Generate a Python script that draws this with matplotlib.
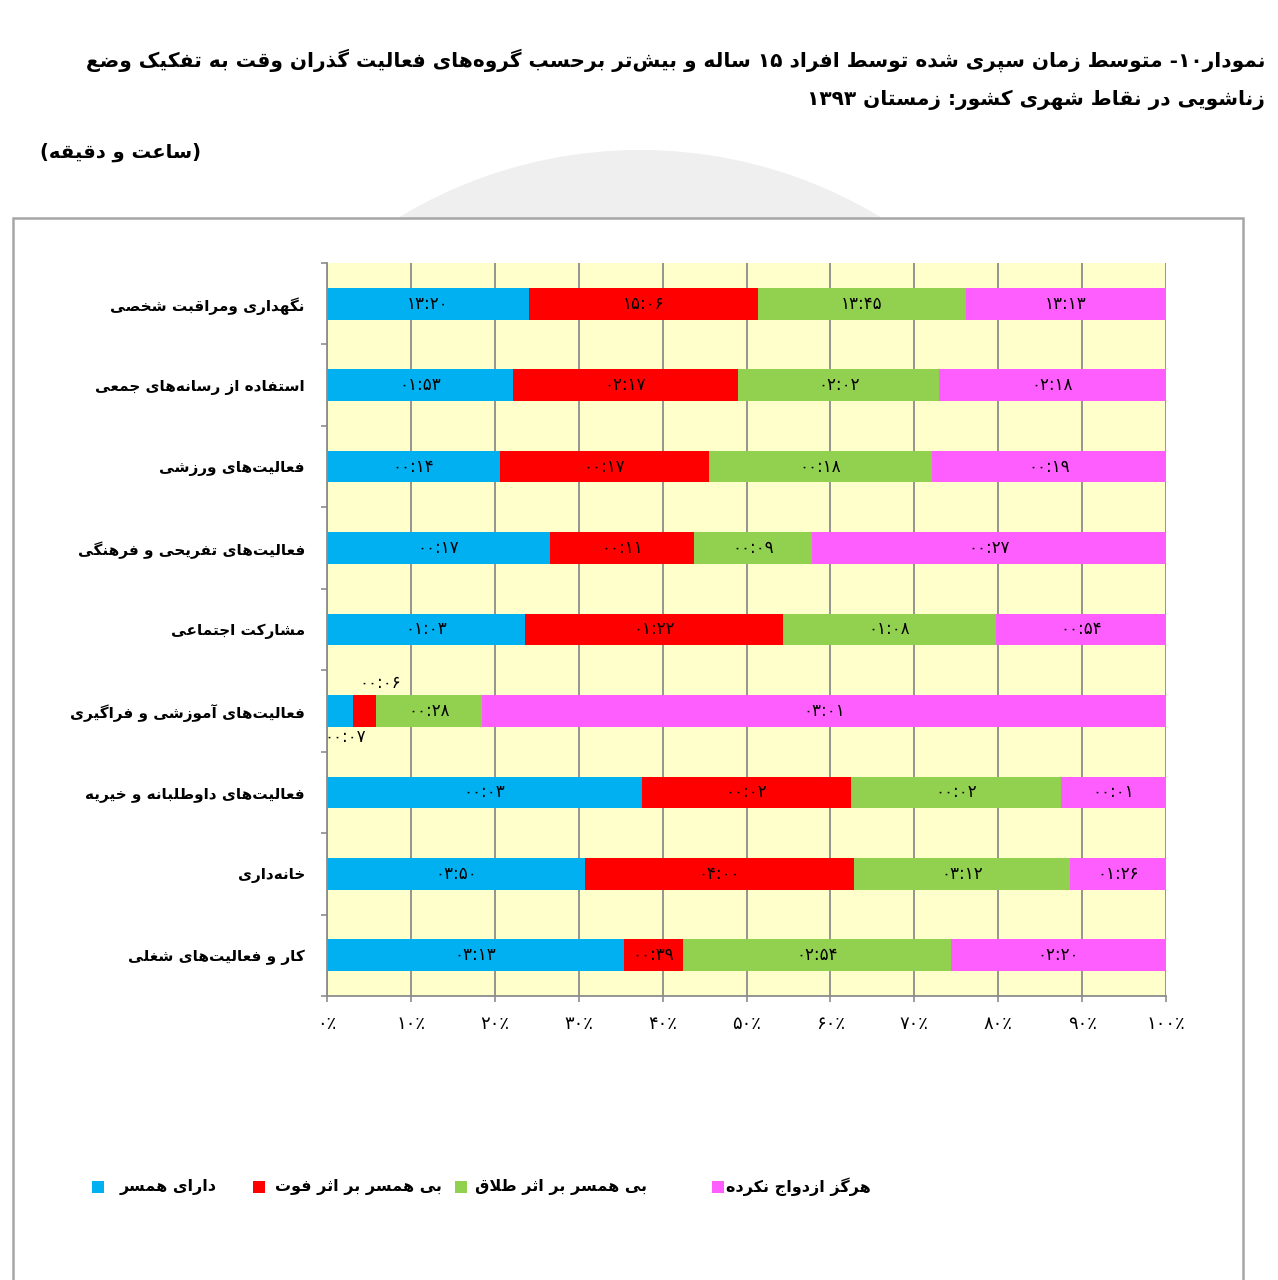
import re
import matplotlib
matplotlib.use("Agg")
import matplotlib.pyplot as plt
import matplotlib.patches as patches

# Data (minutes as shown in the chart labels, hh:mm in Persian digits)
categories = [
    "نگهداری ومراقبت شخصی",
    "استفاده از رسانه‌های جمعی",
    "فعالیت‌های ورزشی",
    "فعالیت‌های تفریحی و فرهنگی",
    "مشارکت اجتماعی",
    "فعالیت‌های آموزشی و فراگیری",
    "فعالیت‌های داوطلبانه و خیریه",
    "خانه‌داری",
    "کار و فعالیت‌های شغلی",
]
married = ["۱۳:۲۰", "۰۱:۵۳", "۰۰:۱۴", "۰۰:۱۷", "۰۱:۰۳", "۰۰:۰۷", "۰۰:۰۳", "۰۳:۵۰", "۰۳:۱۳"]
widowed = ["۱۵:۰۶", "۰۲:۱۷", "۰۰:۱۷", "۰۰:۱۱", "۰۱:۲۲", "۰۰:۰۶", "۰۰:۰۲", "۰۴:۰۰", "۰۰:۳۹"]
divorced = ["۱۳:۴۵", "۰۲:۰۲", "۰۰:۱۸", "۰۰:۰۹", "۰۱:۰۸", "۰۰:۲۸", "۰۰:۰۲", "۰۳:۱۲", "۰۲:۵۴"]
never_married = ["۱۳:۱۳", "۰۲:۱۸", "۰۰:۱۹", "۰۰:۲۷", "۰۰:۵۴", "۰۳:۰۱", "۰۰:۰۱", "۰۱:۲۶", "۰۲:۲۰"]

series_names = ["دارای همسر", "بی همسر بر اثر فوت", "بی همسر بر اثر طلاق", "هرگز ازدواج نکرده"]
series_colors = ["#00B0F0", "#FF0000", "#92D050", "#FF5EFF"]
x_ticks = [0, 10, 20, 30, 40, 50, 60, 70, 80, 90, 100]
x_tick_labels = ["۰٪", "۱۰٪", "۲۰٪", "۳۰٪", "۴۰٪", "۵۰٪", "۶۰٪", "۷۰٪", "۸۰٪", "۹۰٪", "۱۰۰٪"]

title_1 = "نمودار۱۰- متوسط زمان سپری شده توسط افراد ۱۵ ساله و بیش‌تر برحسب گروه‌های فعالیت گذران وقت به تفکیک وضع"
title_2 = "زناشویی در نقاط شهری کشور: زمستان ۱۳۹۳"
unit_text = "(ساعت و دقیقه)"

# --- minimal Persian shaping (presentation forms) + RTL reorder ---
FORMS = {
    "ء": ("\uFE80", None, None, None),
    "آ": ("\uFE81", "\uFE82", None, None),
    "أ": ("\uFE83", "\uFE84", None, None),
    "ا": ("\uFE8D", "\uFE8E", None, None),
    "ب": ("\uFE8F", "\uFE90", "\uFE91", "\uFE92"),
    "پ": ("\uFB56", "\uFB57", "\uFB58", "\uFB59"),
    "ت": ("\uFE95", "\uFE96", "\uFE97", "\uFE98"),
    "ث": ("\uFE99", "\uFE9A", "\uFE9B", "\uFE9C"),
    "ج": ("\uFE9D", "\uFE9E", "\uFE9F", "\uFEA0"),
    "چ": ("\uFB7A", "\uFB7B", "\uFB7C", "\uFB7D"),
    "ح": ("\uFEA1", "\uFEA2", "\uFEA3", "\uFEA4"),
    "خ": ("\uFEA5", "\uFEA6", "\uFEA7", "\uFEA8"),
    "د": ("\uFEA9", "\uFEAA", None, None),
    "ذ": ("\uFEAB", "\uFEAC", None, None),
    "ر": ("\uFEAD", "\uFEAE", None, None),
    "ز": ("\uFEAF", "\uFEB0", None, None),
    "ژ": ("\uFB8A", "\uFB8B", None, None),
    "س": ("\uFEB1", "\uFEB2", "\uFEB3", "\uFEB4"),
    "ش": ("\uFEB5", "\uFEB6", "\uFEB7", "\uFEB8"),
    "ص": ("\uFEB9", "\uFEBA", "\uFEBB", "\uFEBC"),
    "ض": ("\uFEBD", "\uFEBE", "\uFEBF", "\uFEC0"),
    "ط": ("\uFEC1", "\uFEC2", "\uFEC3", "\uFEC4"),
    "ظ": ("\uFEC5", "\uFEC6", "\uFEC7", "\uFEC8"),
    "ع": ("\uFEC9", "\uFECA", "\uFECB", "\uFECC"),
    "غ": ("\uFECD", "\uFECE", "\uFECF", "\uFED0"),
    "ف": ("\uFED1", "\uFED2", "\uFED3", "\uFED4"),
    "ق": ("\uFED5", "\uFED6", "\uFED7", "\uFED8"),
    "ک": ("\uFB8E", "\uFB8F", "\uFB90", "\uFB91"),
    "گ": ("\uFB92", "\uFB93", "\uFB94", "\uFB95"),
    "ل": ("\uFEDD", "\uFEDE", "\uFEDF", "\uFEE0"),
    "م": ("\uFEE1", "\uFEE2", "\uFEE3", "\uFEE4"),
    "ن": ("\uFEE5", "\uFEE6", "\uFEE7", "\uFEE8"),
    "و": ("\uFEED", "\uFEEE", None, None),
    "ه": ("\uFEE9", "\uFEEA", "\uFEEB", "\uFEEC"),
    "ی": ("\uFBFC", "\uFBFD", "\uFBFE", "\uFBFF"),
}
LAM_ALEF = {"ا": ("\uFEFB", "\uFEFC"), "آ": ("\uFEF5", "\uFEF6")}


def joins_forward(c):
    return c in FORMS and FORMS[c][2] is not None


def shape(s):
    out = []
    i = 0
    n = len(s)
    while i < n:
        c = s[i]
        if c not in FORMS:
            if c != "\u200c":
                out.append(c)
            i += 1
            continue
        prev = s[i - 1] if i > 0 else ""
        pj = joins_forward(prev)
        if c == "ل" and i + 1 < n and s[i + 1] in LAM_ALEF:
            out.append(LAM_ALEF[s[i + 1]][1 if pj else 0])
            i += 2
            continue
        nxt = s[i + 1] if i + 1 < n else ""
        nj = joins_forward(c) and nxt in FORMS
        iso, fin, ini, med = FORMS[c]
        if pj and nj:
            out.append(med)
        elif pj:
            out.append(fin or iso)
        elif nj:
            out.append(ini)
        else:
            out.append(iso)
        i += 1
    return "".join(out)


def fa(s):
    tokens = re.findall(r"[0-9۰-۹]+(?:[:.][0-9۰-۹]+)*|.", shape(s))
    return "".join(tokens[::-1]).translate(str.maketrans("()", ")("))


def to_minutes(t):
    h, m = t.translate(str.maketrans("۰۱۲۳۴۵۶۷۸۹", "0123456789")).split(":")
    return int(h) * 60 + int(m)


plt.rcParams["font.family"] = ["DejaVu Sans"]

fig = plt.figure(figsize=(12.78, 12.80), dpi=100)

# background layer in pixel coords: watermark arc, chart box, legend squares
bg = fig.add_axes([0, 0, 1, 1], zorder=-1)
bg.set_xlim(0, 1278)
bg.set_ylim(1280, 0)
bg.axis("off")
bg.add_patch(patches.Circle((640, 615), 465, facecolor="#EFEFEF", edgecolor="none"))
bg.add_patch(patches.Rectangle((13, 218), 1230, 1100, facecolor="white", edgecolor="#A6A6A6", linewidth=1.8))

ax = fig.add_axes([327 / 1278, 1 - 996 / 1280, 839 / 1278, 733 / 1280])
ax.set_facecolor("#FFFFCC")

y = list(range(len(categories)))
all_series = [married, widowed, divorced, never_married]
minutes = [[to_minutes(v) for v in s] for s in all_series]
totals = [sum(col) for col in zip(*minutes)]

left = [0.0] * len(categories)
bar_h = 0.39
for k, s in enumerate(all_series):
    pct = [m / t * 100 for m, t in zip(minutes[k], totals)]
    ax.barh(y, pct, left=left, height=bar_h, color=series_colors[k], zorder=2)
    for i in y:
        cx = left[i] + pct[i] / 2
        if i == 5 and k == 0:
            ax.annotate(s[i], (cx, i), xytext=(5, -26), textcoords="offset pixels",
                        ha="center", va="center", fontsize=12, zorder=3)
        elif i == 5 and k == 1:
            ax.annotate(s[i], (cx, i), xytext=(15, 28), textcoords="offset pixels",
                        ha="center", va="center", fontsize=12, zorder=3)
        else:
            ax.text(cx, i, s[i], ha="center", va="center", fontsize=12, zorder=3)
    left = [l + p for l, p in zip(left, pct)]

ax.set_xlim(0, 100)
ax.set_ylim(len(categories) - 0.5, -0.5)
ax.set_axisbelow(True)
ax.grid(axis="x", color="#8C8C8C", linewidth=1.3)
ax.grid(axis="y", visible=False)

ax.set_xticks(x_ticks, x_tick_labels)
ax.tick_params(axis="x", direction="out", length=4.5, color="#8C8C8C", width=1.2, labelsize=13, pad=9)
ax.set_yticks(y, [fa(c) for c in categories])
ax.tick_params(axis="y", length=0, labelsize=11, pad=16)
for lab in ax.get_yticklabels():
    lab.set_fontweight("bold")
ax.set_yticks([i - 0.5 for i in range(len(categories) + 1)], minor=True)
ax.tick_params(axis="y", which="minor", direction="out", length=4, color="#8C8C8C", width=1.2)

for side in ["top", "right"]:
    ax.spines[side].set_visible(False)
for side in ["left", "bottom"]:
    ax.spines[side].set_color("#8C8C8C")
    ax.spines[side].set_linewidth(1.3)

# titles
fig.text(1265 / 1278, 1 - 60 / 1280, fa(title_1), ha="right", va="center", fontsize=14.5, fontweight="bold")
fig.text(1265 / 1278, 1 - 100 / 1280, fa(title_2), ha="right", va="center", fontsize=14.5, fontweight="bold")
fig.text(40 / 1278, 1 - 152 / 1280, fa(unit_text), ha="left", va="center", fontsize=14, fontweight="bold")

# legend
square_x = [92, 253, 455, 712]
text_x = [120, 275, 475, 726]
for k in range(4):
    bg.add_patch(patches.Rectangle((square_x[k], 1181), 12, 12, facecolor=series_colors[k], edgecolor="none"))
    fig.text(text_x[k] / 1278, 1 - 1187 / 1280, fa(series_names[k]), ha="left", va="center",
             fontsize=11.5, fontweight="bold")

fig.savefig("out.png", dpi=100)
